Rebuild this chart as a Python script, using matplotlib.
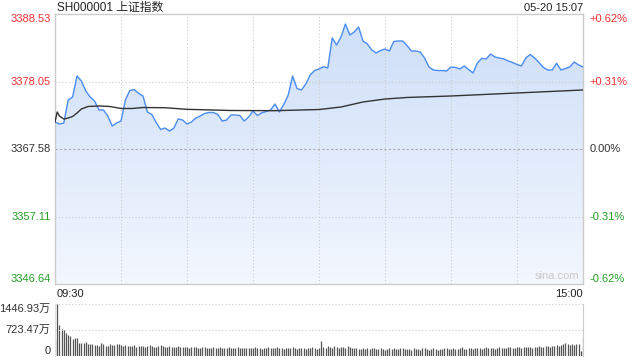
import numpy as np
import matplotlib
matplotlib.use("Agg")
import matplotlib.pyplot as plt
from matplotlib.colors import LinearSegmentedColormap
from matplotlib.transforms import blended_transform_factory

plt.rcParams['font.family'] = ['Liberation Sans', 'Noto Sans CJK SC', 'DejaVu Sans']

title = 'SH000001 上证指数'
stamp = '05-20 15:07'
prev_close = 3367.58
price_ticks = [3388.53, 3378.05, 3367.58, 3357.11, 3346.64]
pct_labels = ['+0.62%', '+0.31%', '0.00%', '-0.31%', '-0.62%']
vol_ticks = [1446.93, 723.47, 0]
vol_labels = ['1446.93万', '723.47万', '0']
time_labels = ['09:30', '15:00']

# price every 2 minutes, 09:30 .. 15:00 (121 points)
price = [
    3371.77, 3371.46, 3371.62, 3375.19, 3375.65, 3378.91, 3378.13, 3376.58, 3375.65, 3375.03,
    3373.64, 3373.64, 3372.70, 3371.15, 3371.62, 3371.93, 3375.19, 3376.66, 3376.81, 3376.23,
    3375.81, 3373.33, 3372.94, 3371.69, 3370.61, 3370.84, 3370.38, 3370.80, 3372.24, 3372.08,
    3371.46, 3371.77, 3372.39, 3372.70, 3373.09, 3373.25, 3373.25, 3372.94, 3371.93, 3372.08,
    3372.86, 3372.86, 3372.78, 3371.93, 3372.55, 3373.48, 3372.78, 3373.21, 3373.40, 3373.64,
    3374.57, 3373.33, 3374.49, 3375.96, 3378.91, 3376.97, 3376.74, 3377.67, 3379.07, 3379.76,
    3380.00, 3380.35, 3380.15, 3384.81, 3383.72, 3384.96, 3386.98, 3385.27, 3385.74, 3386.51,
    3384.34, 3383.87, 3382.94, 3382.48, 3382.87, 3383.10, 3382.79, 3384.27, 3384.34, 3384.34,
    3383.64, 3382.79, 3382.79, 3382.63, 3381.70, 3380.31, 3379.84, 3379.76, 3379.76, 3379.69,
    3380.31, 3380.23, 3380.00, 3380.46, 3379.92, 3379.38, 3380.93, 3381.66, 3381.55, 3382.32,
    3381.86, 3381.70, 3381.55, 3381.24, 3381.01, 3380.70, 3380.46, 3381.70, 3382.25, 3381.70,
    3381.01, 3380.23, 3379.84, 3379.84, 3380.88, 3379.84, 3380.07, 3380.31, 3381.08, 3380.62,
    3380.31,
]

# average price line
avg_minute = [0, 1, 2, 4, 6, 8, 10, 12, 15, 20, 25, 30, 35, 40, 50, 60, 80, 100,
              120, 130, 140, 150, 160, 180, 200, 220, 240]
avg_price = [3371.77, 3373.33, 3372.70, 3372.24, 3372.39, 3372.63, 3373.17, 3373.79,
             3374.18, 3374.26, 3374.18, 3373.87, 3373.87, 3374.02, 3373.99, 3373.74,
             3373.56, 3373.53, 3373.71, 3374.10, 3374.88, 3375.34, 3375.58, 3375.81,
             3376.12, 3376.43, 3376.74]

# volume per minute, unit 万 (241 bars)
volume = [
    445, 1447, 860, 750, 720, 630, 585, 555, 465, 490, 490, 370, 370, 350, 380,
    330, 320, 330, 300, 310, 290, 350, 320, 280, 270, 340, 310, 300, 320, 330,
    300, 280, 310, 290, 270, 280, 300, 260, 280, 290, 270, 260, 280, 300, 270,
    260, 250, 280, 300, 270, 250, 260, 270, 240, 250, 260, 280, 250, 240, 260,
    250, 230, 240, 260, 240, 230, 220, 240, 250, 230, 220, 230, 240, 230, 220,
    260, 230, 220, 230, 240, 210, 220, 230, 250, 230, 220, 210, 220, 230, 210,
    220, 240, 230, 210, 200, 220, 230, 260, 220, 210, 230, 240, 210, 220, 200,
    230, 210, 220, 250, 220, 200, 210, 230, 220, 200, 210, 230, 240, 210, 200,
    220,
    420, 250, 230, 270, 240, 220, 280, 240, 230, 260, 250, 220, 280, 240, 230,
    210, 220, 200, 190, 230, 200, 210, 190, 220, 230, 200, 190, 210, 200, 180,
    200, 210, 190, 220, 200, 190, 210, 230, 200, 190, 200, 180, 210, 200, 190,
    180, 210, 220, 190, 180, 200, 210, 190, 180, 200, 190, 210, 230, 200, 190,
    210, 190, 200, 220, 240, 190, 200, 230, 210, 200, 220, 230, 210, 190, 220,
    240, 210, 230, 220, 200, 230, 240, 220, 210, 230, 240, 250, 230, 220, 240,
    250, 230, 240, 260, 250, 240, 230, 260, 250, 270, 260, 240, 270, 280, 260,
    290, 280, 300, 290, 310, 330, 350, 320, 300, 320, 310, 340, 330, 150, 530,
]

minute = np.arange(0, 241, 2)
vol_minute = np.arange(len(volume))

red = '#f03030'
green = '#22a022'
dark = '#333333'
grid = '#cccccc'

fig = plt.figure(figsize=(6.4, 3.6), dpi=100)
ax = fig.add_axes([55 / 640, 76 / 360, 528 / 640, 270 / 360])
vax = fig.add_axes([55 / 640, 4 / 360, 528 / 640, 52 / 360])

# price area with gradient fill
lo, hi = price_ticks[-1], price_ticks[0]
poly = ax.fill_between(minute, price, lo, color='none', lw=0)
cmap = LinearSegmentedColormap.from_list('blue_fade', ['#cddef8', '#f3f7fe'])
im = ax.imshow(np.linspace(0, 1, 256).reshape(-1, 1), cmap=cmap, aspect='auto',
               extent=[0, 240, lo, hi], origin='upper', zorder=1)
im.set_clip_path(poly.get_paths()[0], transform=ax.transData)
ax.plot(minute, price, color='#4a8cf0', lw=1, zorder=3)
ax.plot(avg_minute, avg_price, color='#333333', lw=1, zorder=4)

ax.set_xlim(0, 240)
ax.set_ylim(lo, hi)
for m in range(30, 240, 30):
    ax.axvline(m, color=grid, lw=0.8, ls=(0, (1, 2)), zorder=2)
for v in (price_ticks[1], price_ticks[3]):
    ax.axhline(v, color=grid, lw=0.8, ls=(0, (1, 2)), zorder=2)
ax.axhline(prev_close, color='#aaaaaa', lw=0.8, ls=(0, (2, 2)), zorder=2)
ax.set_xticks([])
ax.set_yticks([])
for s in ax.spines.values():
    s.set_color(grid)
    s.set_linewidth(1)

trans = blended_transform_factory(ax.transAxes, ax.transData)
vas = ['top', 'center', 'center', 'center', 'bottom']
for v, pct, va in zip(price_ticks, pct_labels, vas):
    col = red if v > prev_close else (green if v < prev_close else dark)
    ax.text(-0.008, v, f'{v:.2f}', transform=trans, ha='right', va=va, color=col, fontsize=8)
    ax.text(1.013, v, pct, transform=trans, ha='left', va=va, color=col, fontsize=8)

ax.text(0.993, 0.01, 'sina.com', transform=ax.transAxes, ha='right', va='bottom',
        color='#c8c8c8', fontsize=8)

# volume panel
vax.vlines(vol_minute, 0, volume, colors='#555555', lw=0.9)
vax.set_xlim(0, 240)
vax.set_ylim(0, vol_ticks[0])
vax.axhline(vol_ticks[0], color=grid, lw=0.8, ls=(0, (1, 2)))
vax.axhline(vol_ticks[1], color=grid, lw=0.8, ls=(0, (1, 2)))
vax.set_xticks([])
vax.set_yticks([])
for side in ('top', 'bottom'):
    vax.spines[side].set_visible(False)
vax.spines['right'].set_color(grid)
vax.spines['left'].set_color('#e0e0e0')

vtrans = blended_transform_factory(vax.transAxes, vax.transData)
for v, lab, va in zip(vol_ticks, vol_labels, ['top', 'center', 'bottom']):
    vax.text(-0.008, v, lab, transform=vtrans, ha='right', va=va, color=dark, fontsize=8)

fig.text(57 / 640, 1 - 8 / 360, title, ha='left', va='center', fontsize=8.5, color='#222222')
fig.text(583 / 640, 1 - 8 / 360, stamp, ha='right', va='center', fontsize=8, color='#222222')
fig.text(57 / 640, 1 - 294 / 360, time_labels[0], ha='left', va='center', fontsize=8, color='#222222')
fig.text(583 / 640, 1 - 294 / 360, time_labels[1], ha='right', va='center', fontsize=8, color='#222222')

fig.savefig('out.png', dpi=100)
